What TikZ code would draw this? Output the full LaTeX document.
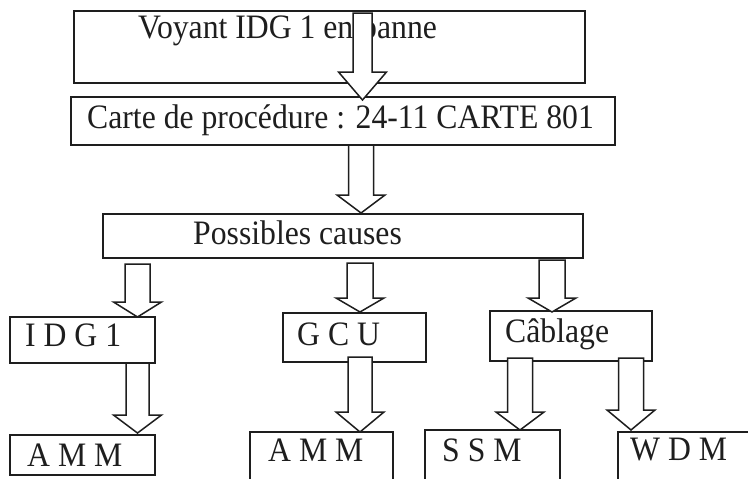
\documentclass[tikz,border=0pt]{standalone}
\usepackage{fontspec}
\setmainfont{Liberation Serif}
\usetikzlibrary{calc}
\definecolor{ink}{HTML}{1E1E1E}
\newcommand\tallt[1]{\scalebox{1}[1.08]{#1}}
\tikzset{
  box/.style={draw=ink, line width=1.5pt, fill=white, inner sep=0pt, outer sep=0pt},
  txt/.style={text=ink, inner sep=0pt, anchor=base west, font=\fontsize{31.7}{36}\selectfont},
  blockarr/.style={draw=ink, line width=1.5pt, fill=white, line join=miter},
}
% block arrow: #1 top of the shaft, #2 tip, #3 half width of the shaft, #4 length of the head
\newcommand\blockarrow[4]{%
  \draw[blockarr] let \p1=#1, \p2=#2 in
    (\x2-#3,\y1) -- (\x2-#3,\y2+#4) -- (\x2-24pt,\y2+#4) -- (\x2,\y2)
    -- (\x2+24pt,\y2+#4) -- (\x2+#3,\y2+#4) -- (\x2+#3,\y1) -- cycle;}
\begin{document}
\begin{tikzpicture}[x=1pt,y=-1pt]
\useasboundingbox (0,0) rectangle (748,479);
\clip (0,0) rectangle (748,479);
\fill[white] (0,0) rectangle (748,479);

% boxes
\node[box, minimum width=511pt, minimum height=72pt] (voyant) at (329.5,47) {};
\node[box, minimum width=544pt, minimum height=48pt] (carte) at (343,121) {};
\node[box, minimum width=480pt, minimum height=44pt] (causes) at (343,236) {};
\node[box, minimum width=145pt, minimum height=46pt] (idg) at (82.5,340) {};
\node[box, minimum width=143pt, minimum height=49pt] (gcu) at (354.5,337.5) {};
\node[box, minimum width=162pt, minimum height=50pt] (cablage) at (571,336) {};
\node[box, minimum width=145pt, minimum height=40pt] (amma) at (82.5,455) {};
\node[box, minimum width=143pt, minimum height=68pt] (ammb) at (321.5,466) {};
\node[box, minimum width=135pt, minimum height=70pt] (ssm) at (492.5,465) {};
\node[box, minimum width=152pt, minimum height=68pt] (wdm) at (694,466) {};

% labels
\node[txt] (tvoyant) at (138,38) {\tallt{Voyant IDG 1 en panne}};
\node[txt] (tcarte) at (87,128) {\tallt{Carte de procédure : 24-11 CARTE 801}};
\node[txt] (tcauses) at (193,244) {\tallt{Possibles causes}};
\node[txt] (tidg) at (25,346) {\tallt{I D G 1}};
\node[txt] (tgcu) at (297,345) {\tallt{G C U}};
\node[txt] (tcablage) at (505,342) {\tallt{Câblage}};
\node[txt] (tamma) at (27,466) {\tallt{A M M}};
\node[txt] (tammb) at (268,461) {\tallt{A M M}};
\node[txt] (tssm) at (442,461) {\tallt{S S M}};
\node[txt] (twdm) at (630,460) {\tallt{W D M}};

% arrow columns
\coordinate (xa) at (362.5,0);
\coordinate (xb) at (361,0);
\coordinate (xc) at (137.5,0);
\coordinate (xd) at (360,0);
\coordinate (xe) at (552,0);
\coordinate (xf) at (520,0);
\coordinate (xg) at (631,0);

% arrows
\blockarrow{([yshift=-2pt]voyant.north -| xa)}{([yshift=-3pt]carte.north -| xa)}{9.5pt}{28pt}
\blockarrow{(carte.south -| xb)}{([yshift=1pt]causes.north -| xb)}{12.5pt}{18pt}
\blockarrow{([yshift=-6pt]causes.south -| xc)}{(idg.north -| xc)}{12.5pt}{15pt}
\blockarrow{([yshift=-5pt]causes.south -| xd)}{([yshift=1pt]gcu.north -| xd)}{13pt}{14pt}
\blockarrow{([yshift=-2pt]causes.south -| xe)}{([yshift=-1pt]cablage.north -| xe)}{13pt}{14pt}
\blockarrow{(idg.south -| xc)}{([yshift=2pt]amma.north -| xc)}{11.5pt}{18pt}
\blockarrow{([yshift=5pt]gcu.south -| xd)}{(ammb.north -| xd)}{12pt}{20pt}
\blockarrow{([yshift=3pt]cablage.south -| xf)}{(ssm.north -| xf)}{12.5pt}{18pt}
\blockarrow{([yshift=3pt]cablage.south -| xg)}{([yshift=2pt]wdm.north -| xg)}{12.5pt}{20pt}
\end{tikzpicture}
\end{document}
